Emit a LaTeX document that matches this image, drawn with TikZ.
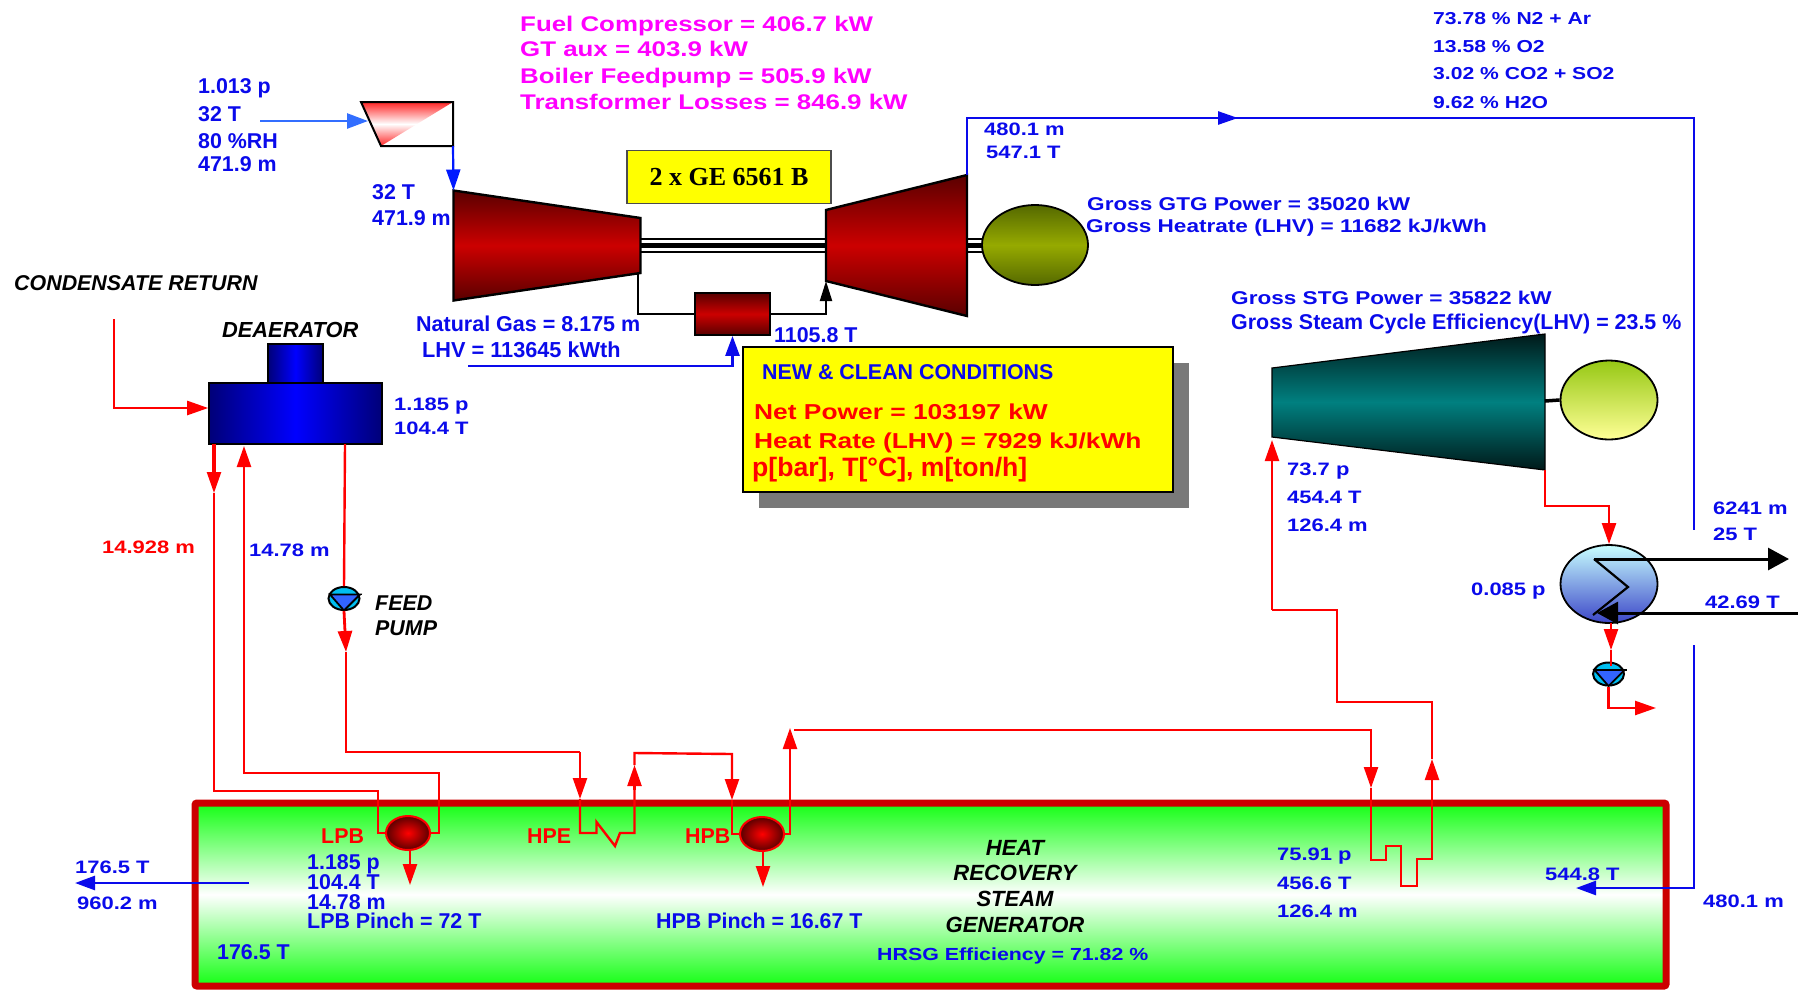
\documentclass[tikz,border=0pt]{standalone}
\usepackage{fontspec}
\setmainfont{Liberation Sans}
\newfontfamily\widefont[FakeStretch=1.22]{Liberation Sans}
\newfontfamily\boxfont{Liberation Serif}
\usetikzlibrary{shapes.geometric, arrows.meta, positioning, calc}
\definecolor{labelblue}{RGB}{10,10,235}
\definecolor{pipered}{RGB}{255,0,0}
\definecolor{hrsgred}{RGB}{204,0,0}
\definecolor{machinedark}{RGB}{90,0,0}
\definecolor{hrsggreen}{RGB}{20,255,20}
\definecolor{pinkish}{RGB}{255,0,255}
\definecolor{panelyellow}{RGB}{255,255,0}
\definecolor{oliveedge}{RGB}{85,105,0}
\definecolor{olivemid}{RGB}{150,170,0}
\definecolor{stgtop}{RGB}{150,200,20}
\definecolor{stgbot}{RGB}{255,255,150}
\definecolor{cndtop}{RGB}{200,255,255}
\definecolor{cndbot}{RGB}{60,70,200}
\definecolor{pumpcyan}{RGB}{0,190,240}
\definecolor{pumpblue}{RGB}{50,100,255}
\definecolor{airblue}{RGB}{50,110,255}
\definecolor{tealdark}{RGB}{0,25,25}
\definecolor{tealmid}{RGB}{0,128,128}
\definecolor{navy}{RGB}{0,0,120}
\definecolor{pureblue}{RGB}{0,0,255}
\tikzset{
  plainlabel/.style={anchor=west, inner sep=0pt, text height=15pt, text depth=0pt, text=labelblue, font=\bfseries\fontsize{21.4}{23}\selectfont},
  vallabel/.style={anchor=west, inner sep=0pt, text height=15pt, text depth=0pt, text=labelblue, font=\widefont\bfseries\fontsize{18}{20}\selectfont},
  gtglabel/.style={vallabel, font=\widefont\bfseries\fontsize{18.5}{21}\selectfont},
  stacklabel/.style={vallabel, font=\widefont\bfseries\fontsize{17.3}{20}\selectfont},
  auxlabel/.style={vallabel, text=pinkish, font=\widefont\bfseries\fontsize{21.2}{23}\selectfont},
  netlabel/.style={vallabel, text=pipered, font=\widefont\bfseries\fontsize{21.6}{23}\selectfont},
  tag/.style={plainlabel, text=black, font=\bfseries\itshape\fontsize{21.4}{23}\selectfont},
  hrsgtag/.style={tag, anchor=center, font=\bfseries\itshape\fontsize{22}{24}\selectfont},
  under/.style 2 args={below=#2 of #1.west, anchor=west},
  pipe/.style={draw=pipered, line width=2.4pt},
  pipearrow/.style={pipe, -{Triangle[length=21pt,width=14pt]}},
  blueline/.style={draw=labelblue, line width=2pt},
  bluearrow/.style={draw=labelblue, line width=2.6pt, -{Triangle[length=20pt,width=14pt]}},
  blackline/.style={draw=black, line width=2pt},
  shaft/.style={draw=black, line width=2.4pt},
  drum/.style={ellipse, draw=pipered, line width=2pt, minimum width=44pt, minimum height=34pt, inner sep=0pt, inner color=pipered, outer color=machinedark},
  pumpdisc/.style={ellipse, draw=black, line width=2pt, fill=pumpcyan, minimum width=31pt, minimum height=23pt, inner sep=0pt},
  machine/.style={draw=black, line width=2.4pt, top color=machinedark, bottom color=machinedark, middle color=hrsgred},
  shell/.style={rectangle, draw=black, line width=1.6pt, left color=navy, right color=navy, middle color=pureblue, inner sep=0pt},
}
\begin{document}
\begin{tikzpicture}[x=1pt, y=-1pt]
  \useasboundingbox (0,0) rectangle (1798,994);

  % heat recovery steam generator casing goes first, pipes run over it
  \node[rectangle, draw=hrsgred, line width=7pt, rounded corners=2pt, minimum width=1471pt, minimum height=183pt, top color=hrsggreen, bottom color=hrsggreen, middle color=white, inner sep=0pt] (hrsg) at (930.5,894.5) {};

  % gas turbine
  \coordinate (cmpin) at (453.5,190.5);
  \coordinate (cmpout) at (640.5,273);
  \coordinate (gtin) at (826,281);
  \coordinate (gtout) at (967,175);
  \path[machine] (cmpin) -- (640.5,218) -- (cmpout) -- (453.5,300.5) -- cycle;
  \path[machine] (gtout) -- (826,210) -- (gtin) -- (967,316) -- cycle;
  \node[ellipse, draw=black, line width=1.8pt, minimum width=106pt, minimum height=80pt, inner sep=0pt, top color=oliveedge, bottom color=oliveedge, middle color=olivemid] (gtgen) at (1035,245) {};
  \node[rectangle, draw=black, line width=1.8pt, minimum width=75pt, minimum height=42pt, inner sep=0pt, top color=machinedark, bottom color=machinedark, middle color=hrsgred] (burner) at (732.5,314) {};
  \foreach \shafty in {239,245.5,252} {
    \draw[shaft] (641,\shafty) -- (826,\shafty);
    \draw[shaft] (967,\shafty) -- (983,\shafty);
  }
  \draw[shaft, line width=4.5pt] (641,245.5) -- (826,245.5);
  \draw[shaft, line width=4.5pt] (967,245.5) -- (983,245.5);
  \node[rectangle, draw=black!70, line width=1.6pt, fill=panelyellow, minimum width=204pt, minimum height=53pt, inner sep=0pt, font=\boxfont\bfseries\fontsize{26}{28}\selectfont] (gebox) at (729,177) {2 x GE 6561 B};

  % air filter
  \coordinate (filtin) at (368,121);
  \coordinate (filtout) at (453,146);
  \fill[white] (361,102) -- (453,102) -- (filtout) -- (381,146) -- cycle;
  \shade[top color=pipered!85!white, bottom color=pipered!85!white, middle color=white] (361,102) -- (453,102) -- (381,146) -- cycle;
  \draw[black, line width=2pt] (361,102) -- (453,102) -- (filtout) -- (381,146) -- cycle;
  \coordinate (airstart) at (260,121);
  \draw[draw=airblue, line width=2.6pt, -{Triangle[length=21pt,width=15pt]}] (airstart) -- (filtin);
  \draw[draw=pureblue!90!cyan, line width=2.2pt, -{Triangle[length=21pt,width=14pt]}] (filtout) -- (cmpin);

  % flue gas path
  \draw[blackline] (cmpout -| burner.west) ++(-56,0) |- (burner.west);
  \draw[blackline, -{Triangle[length=20pt,width=12pt]}] (burner.east) -| (gtin);
  \coordinate (fuelstart) at (468,366);
  \draw[bluearrow] (fuelstart) -| (burner.south);
  \coordinate (gasmid) at (1238,118);
  \coordinate (gascorner) at (1694,118);
  \coordinate (gasend) at (1694,530);
  \coordinate (gasback) at (1694,645);
  \coordinate (hrsgin) at (1576,888);
  \draw[blueline] (gtout) |- (gasmid);
  \draw[draw=labelblue, line width=2.6pt, -{Triangle[length=20pt,width=13pt]}] (1195,118) -- (gasmid);
  \draw[blueline] (gasmid) -- (gascorner) -- (gasend);
  \draw[blueline] (gasback) |- (1622,888);
  \draw[bluearrow] (1622,888) -- (hrsgin);
  \coordinate (stackout) at (75,883);
  \coordinate (stackin) at (249,883);
  \draw[bluearrow] (stackin) -- (stackout);

  % steam turbine and condenser
  \coordinate (stin) at (1272,437);
  \coordinate (stout) at (1545,470);
  \path[draw=black, line width=1.2pt, top color=tealdark, bottom color=tealdark, middle color=tealmid] (1272,368) -- (1545,334) -- (stout) -- (stin) -- cycle;
  \node[ellipse, draw=black, line width=1.8pt, minimum width=97pt, minimum height=79pt, inner sep=0pt, top color=stgtop, bottom color=stgbot] (stgen) at (1609,400) {};
  \draw[shaft, line width=3.5pt] (1545,401) -- (stgen.west);
  \node[ellipse, draw=black, line width=1.8pt, minimum width=97pt, minimum height=78pt, inner sep=0pt, top color=cndtop, bottom color=cndbot] (cond) at (1609,584) {};
  \node[pumpdisc] (cndpump) at (1608.5,674) {};
  \draw[black, line width=1.8pt, fill=pumpblue] ($(cndpump)+(-14,-4)$) -- ($(cndpump)+(16,-4)$) -- ($(cndpump)+(0,12)$) -- cycle;
  \draw[black, line width=1.8pt] ($(cndpump)+(14,-4)$) -- ($(cndpump)+(18,-4)$);
  \node[pumpdisc] (feedpump) at (344,598.5) {};
  \draw[black, line width=1.8pt, fill=pumpblue] ($(feedpump)+(-14,-4)$) -- ($(feedpump)+(16,-4)$) -- ($(feedpump)+(0,12)$) -- cycle;
  \draw[black, line width=1.8pt] ($(feedpump)+(14,-4)$) -- ($(feedpump)+(18,-4)$);
  \coordinate (cwout) at (1789,559);
  \coordinate (cwin) at (1798,613);
  \coordinate (tubetop) at (1594,559);
  \coordinate (tubebot) at (1593,615);
  \draw[black, line width=3pt, -{Triangle[length=21pt,width=22pt]}] (tubetop) -- (cwout);
  \draw[black, line width=2.2pt] (tubetop) -- (1628,587) -- (tubebot);
  \draw[black, line width=3pt, -{Triangle[length=21pt,width=22pt]}] (cwin) -- (1597,613);
  \draw[pipearrow] (stout) |- (1609,506) -- (cond.north);
  \coordinate (cndtip) at (1611,650);
  \draw[pipearrow] (1611,623) -- (cndtip);
  \draw[pipe, line width=2.8pt] (cndtip) -- (1611,666);
  \coordinate (cndout) at (1656,708);
  \draw[pipearrow] (cndpump.south) |- (cndout);

  % deaerator and its connections
  \node[shell, minimum width=173pt, minimum height=61pt] (dea) at (295.5,413.5) {};
  \node[shell, minimum width=55pt, minimum height=39pt] (deatop) at (295.5,363.5) {};
  \coordinate (condret) at (114,319);
  \draw[pipearrow] (condret) |- (dea.west |- 0,408);
  \node[drum] (lpb) at (408,833) {};
  \node[drum] (hpb) at (762,834) {};
  \coordinate (lpdown) at (214,493);
  \coordinate (lpup) at (244,446);
  \draw[pipe, line width=4pt] (214,444) -- (214,472);
  \draw[pipearrow] (214,470) -- (lpdown);
  \draw[pipe] (lpdown) -- (214,791) -| (378,833) -- (lpb.west);
  \draw[pipe] (lpb.east) -- (439,833) |- (244,773);
  \draw[pipearrow] (244,774) -- (lpup);
  \coordinate (feedtip) at (346,652);
  \draw[pipe] (345,444) -- (feedpump.north);
  \draw[pipearrow, line width=2.8pt] (feedpump.south) -- (feedtip);
  \draw[pipe] (feedtip) |- (580,752);
  \coordinate (hpetop) at (580,799);
  \draw[pipearrow] (580,752) -- (hpetop);
  \coordinate (hpeout) at (634.5,765);
  \draw[pipe] (hpetop) |- (596.5,833) -- (596.5,822) -- (615,846) -- (620,833) -- (634.5,833) -- (634.5,790);
  \draw[pipearrow] (634.5,790) -- (hpeout);
  \coordinate (hpbin) at (732,800);
  \draw[pipe] (hpeout) -- (634.5,753) -- (732,754) -- (732,780);
  \draw[pipearrow] (732,780) -- (hpbin);
  \draw[pipe] (hpbin) |- (hpb.west);
  \coordinate (hpbup) at (790,728);
  \draw[pipe] (hpb.east) -| (790,748);
  \draw[pipearrow] (790,752) -- (hpbup);
  \draw[pipearrow] (lpb.south) ++(2,0) -- ++(0,34);
  \draw[pipearrow] (hpb.south) ++(1,0) -- ++(0,35);
  % superheater coil
  \coordinate (shin) at (1371,788);
  \coordinate (shout) at (1432,759);
  \draw[pipe] (794,730) -| (1371,770);
  \draw[pipearrow] (1371,768) -- (shin);
  \draw[pipe] (shin) -- (1371,860) -- (1386,860) -- (1386,846) -- (1401,846) -- (1401,886) -- (1417,886) -- (1417,859) -- (1432,859) -- (1432,778);
  \draw[pipearrow] (1432,780) -- (shout);
  \coordinate (stfeed) at (1272,610);
  \draw[pipe] (shout) |- (1337,702) |- (stfeed);
  \draw[pipearrow] (stfeed) -- (1272,440);

  % net output panel
  \node[rectangle, fill=gray!95!black, minimum width=430pt, minimum height=145pt, inner sep=0pt] (panelshadow) at (974,435) {};
  \node[rectangle, draw=black, line width=1.6pt, fill=panelyellow, minimum width=430pt, minimum height=145pt, inner sep=0pt] (panel) at (958,419.5) {};
  \node[plainlabel] (newclean) at (762,372) {NEW \& CLEAN CONDITIONS};
  \node[netlabel] (netpow) at (754,412) {Net Power = 103197 kW};
  \node[netlabel] (heatrate) at (754,441) {Heat Rate (LHV) = 7929 kJ/kWh};
  \node[plainlabel, text=pipered, font=\bfseries\fontsize{26.6}{28}\selectfont] (units) at (752,469) {p[bar], T[°C], m[ton/h]};

  % auxiliary loads
  \node[auxlabel] (auxfuel) at (520,24) {Fuel Compressor = 406.7 kW};
  \node[auxlabel, under={auxfuel}{25pt}] (auxgt) {GT aux = 403.9 kW};
  \node[auxlabel, under={auxfuel}{52pt}] (auxfeed) {Boiler Feedpump = 505.9 kW};
  \node[auxlabel, under={auxfuel}{78pt}] (auxtrafo) {Transformer Losses = 846.9 kW};

  % stream data
  \node[plainlabel] (airp) at (198,86) {1.013 p};
  \node[plainlabel, under={airp}{28pt}] (airt) {32 T};
  \node[plainlabel, under={airp}{55pt}] (airrh) {80 \%RH};
  \node[plainlabel, under={airp}{78pt}] (airm) {471.9 m};
  \node[plainlabel] (cmpt) at (372,192) {32 T};
  \node[plainlabel, under={cmpt}{26pt}] (cmpm) {471.9 m};
  \node[vallabel] (exhm) at (984,128) {480.1 m};
  \node[vallabel] (exht) at (986,151) {547.1 T};
  \node[stacklabel] (stackn) at (1433,17) {73.78 \% N2 + Ar};
  \node[stacklabel, under={stackn}{28pt}] (stacko) {13.58 \% O2};
  \node[stacklabel, under={stackn}{55pt}] (stackc) {3.02 \% CO2 + SO2};
  \node[stacklabel, under={stackn}{84pt}] (stackh) {9.62 \% H2O};
  \node[gtglabel] (gtgpow) at (1087,203) {Gross GTG Power = 35020 kW};
  \node[gtglabel] (gtgrate) at (1086,225) {Gross Heatrate (LHV) = 11682 kJ/kWh};
  \node[gtglabel] (stgpow) at (1231,297) {Gross STG Power = 35822 kW};
  \node[plainlabel, font=\bfseries\fontsize{21.4}{23}\selectfont] (stgeff) at (1231,322) {Gross Steam Cycle Efficiency(LHV) = 23.5 \%};
  \node[plainlabel, font=\bfseries\fontsize{21.5}{23}\selectfont] (natgas) at (416,324) {Natural Gas = 8.175 m};
  \node[plainlabel, font=\bfseries\fontsize{21.7}{23}\selectfont] (fuellhv) at (422,350) {LHV = 113645 kWth};
  \node[plainlabel] (firet) at (774,335) {1105.8 T};
  \node[tag] (condtag) at (14,283) {CONDENSATE RETURN};
  \node[tag, font=\bfseries\itshape\fontsize{21.8}{24}\selectfont] (deatag) at (222,330) {DEAERATOR};
  \node[vallabel] (deap) at (394,403) {1.185 p};
  \node[vallabel] (deat) at (394,427) {104.4 T};
  \node[vallabel, text=pipered] (lpm) at (102,546) {14.928 m};
  \node[vallabel] (fwm) at (249,549) {14.78 m};
  \node[tag] (feedtag) at (375,603) {FEED};
  \node[tag, under={feedtag}{25pt}] (pumptag) {PUMP};
  \node[vallabel] (stp) at (1287,468) {73.7 p};
  \node[vallabel, under={stp}{28pt}] (stt) {454.4 T};
  \node[vallabel, under={stp}{56pt}] (stm) {126.4 m};
  \node[vallabel] (cwm) at (1713,507) {6241 m};
  \node[vallabel, under={cwm}{26pt}] (cwt) {25 T};
  \node[vallabel] (cndp) at (1471,588) {0.085 p};
  \node[vallabel] (cndt) at (1705,601) {42.69 T};

  % inside the casing
  \node[plainlabel, text=pipered] (lpbtag) at (321,836) {LPB};
  \node[plainlabel, text=pipered] (hpetag) at (527,836) {HPE};
  \node[plainlabel, text=pipered] (hpbtag) at (685,836) {HPB};
  \node[plainlabel] (lpbp) at (307,862) {1.185 p};
  \node[plainlabel, under={lpbp}{20pt}] (lpbt) {104.4 T};
  \node[plainlabel, under={lpbp}{40pt}] (lpbm) {14.78 m};
  \node[plainlabel, under={lpbp}{59pt}] (lpbpinch) {LPB Pinch = 72 T};
  \node[plainlabel] (hpbpinch) at (656,921) {HPB Pinch = 16.67 T};
  \node[vallabel] (stackt) at (75,866) {176.5 T};
  \node[vallabel] (stackm) at (77,902) {960.2 m};
  \node[plainlabel] (casingt) at (217,952) {176.5 T};
  \node[hrsgtag] (hrsgheat) at (1015,848) {HEAT};
  \node[hrsgtag, below=25pt of hrsgheat.center, anchor=center] (hrsgrec) {RECOVERY};
  \node[hrsgtag, below=51pt of hrsgheat.center, anchor=center] (hrsgsteam) {STEAM};
  \node[hrsgtag, below=77pt of hrsgheat.center, anchor=center] (hrsggen) {GENERATOR};
  \node[vallabel, font=\widefont\bfseries\fontsize{17.5}{20}\selectfont] (hrsgeff) at (877,953) {HRSG Efficiency = 71.82 \%};
  \node[vallabel] (shp) at (1277,853) {75.91 p};
  \node[vallabel, under={shp}{29pt}] (sht) {456.6 T};
  \node[vallabel, under={shp}{57pt}] (shm) {126.4 m};
  \node[vallabel] (gasint) at (1545,873) {544.8 T};
  \node[vallabel] (gasinm) at (1703,900) {480.1 m};
\end{tikzpicture}
\end{document}
